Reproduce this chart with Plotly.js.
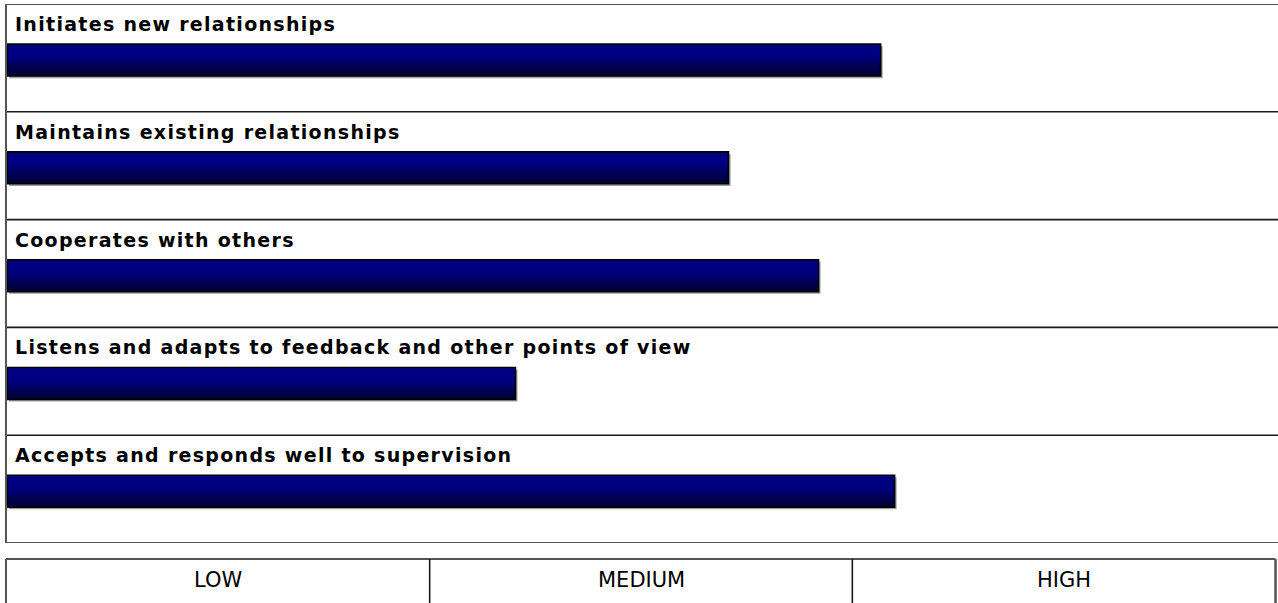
<!DOCTYPE html>
<html>
<head>
<meta charset="utf-8">
<script src="https://cdn.plot.ly/plotly-3.0.1.min.js"></script>
<style>
html,body{margin:0;padding:0;background:#fff;}
#chart{width:1278px;height:603px;}
</style>
</head>
<body>
<div id="chart"></div>
<script>
// ---- data ----
const categories = [
  "Initiates new relationships",
  "Maintains existing relationships",
  "Cooperates with others",
  "Listens and adapts to feedback and other points of view",
  "Accepts and responds well to supervision"
];
const scores = [68.9, 56.9, 64.0, 40.1, 70.0];
const scaleLabels = ["LOW", "MEDIUM", "HIGH"];
const scaleMax = 100;

// ---- layout helpers ----
const barCenter = 0.52, barH = 0.296;
const positions = categories.map((c, i) => i + barCenter);
const gradColors = ["#00003c", "#000048", "#000054", "#000060", "#00006c", "#000078", "#000082"];
const gradFrac = [1.0, 0.85, 0.75, 0.65, 0.57, 0.5, 0.42];

const traces = [];
// soft shadow (right/bottom)
traces.push({
  type: "bar", orientation: "h",
  x: scores, y: positions,
  base: 0.16,
  width: barH, offset: -barH / 2 + 0.02,
  marker: {color: "#a0a0a0", line: {width: 0}},
  hoverinfo: "skip", showlegend: false
});
gradColors.forEach((col, k) => {
  traces.push({
    type: "bar", orientation: "h",
    x: scores, y: positions,
    width: barH * gradFrac[k],
    offset: -barH / 2,
    marker: {color: col, line: {width: 0}},
    hoverinfo: "skip", showlegend: false
  });
});
traces.push({
  type: "bar", orientation: "h",
  x: scores, y: positions,
  width: barH, offset: -barH / 2,
  marker: {color: "rgba(0,0,0,0)", line: {color: "#000", width: 1.6}},
  hoverinfo: "skip", showlegend: false
});

const shapes = [];
for (let i = 0; i <= categories.length; i++) {
  shapes.push({type: "line", xref: "paper", yref: "y", x0: -0.001, x1: 1.003, y0: i, y1: i,
    line: {color: "#1a1a1a", width: 1.6}});
}
shapes.push({type: "line", xref: "paper", yref: "y", x0: -0.0008, x1: -0.0008, y0: 0, y1: categories.length,
  line: {color: "#555", width: 2}});

// bottom scale boxes (paper coords)
const boxTop = -0.0297, boxBot = -0.2;
shapes.push({type: "line", xref: "paper", yref: "paper", x0: -0.0008, x1: 1.0004, y0: boxTop, y1: boxTop,
  line: {color: "#1a1a1a", width: 1.6}});
shapes.push({type: "line", xref: "paper", yref: "paper", x0: -0.0008, x1: -0.0008, y0: boxTop, y1: boxBot,
  line: {color: "#555", width: 2}});
shapes.push({type: "line", xref: "paper", yref: "paper", x0: 1.0004, x1: 1.0004, y0: boxTop, y1: boxBot,
  line: {color: "#555", width: 2.5}});
for (let k = 1; k < scaleLabels.length; k++) {
  const xv = k / scaleLabels.length;
  shapes.push({type: "line", xref: "paper", yref: "paper", x0: xv, x1: xv, y0: boxTop, y1: boxBot,
    line: {color: "#1a1a1a", width: 1.6}});
}

const annotations = categories.map((c, i) => ({
  text: "<b>" + c + "</b>", xref: "paper", yref: "y", x: 0.0047, y: i + 0.185,
  xanchor: "left", yanchor: "middle", showarrow: false,
  font: {family: "DejaVu Sans, Verdana, sans-serif", size: 19, color: "#000"}
}));
scaleLabels.forEach((s, k) => {
  annotations.push({
    text: s, xref: "paper", yref: "paper", x: (k + 0.5) / scaleLabels.length, y: -0.069,
    xanchor: "center", yanchor: "middle", showarrow: false,
    font: {family: "DejaVu Sans, Verdana, sans-serif", size: 21, color: "#000"}
  });
});

const layout = {
  width: 1278, height: 603,
  margin: {l: 7, r: 3, t: 4, b: 60},
  paper_bgcolor: "#fff", plot_bgcolor: "#fff",
  barmode: "overlay",
  xaxis: {range: [0, scaleMax], showgrid: false, zeroline: false, showticklabels: false, ticks: "", fixedrange: true},
  yaxis: {range: [categories.length, 0], showgrid: false, zeroline: false, showticklabels: false, ticks: "", fixedrange: true},
  shapes: shapes,
  annotations: annotations,
  showlegend: false
};

Plotly.newPlot("chart", traces, layout, {displayModeBar: false, staticPlot: true}).then(() => {
  // widen bold category labels to match the reference letter spacing, keeping the left edge fixed
  document.querySelectorAll("#chart .annotation-text").forEach((t, idx) => {
    if (idx < categories.length) {
      const bb = t.getBBox();
      t.setAttribute("text-anchor", "start");
      t.setAttribute("x", bb.x);
      t.style.letterSpacing = "1.3px";
    }
  });
});
</script>
</body>
</html>
